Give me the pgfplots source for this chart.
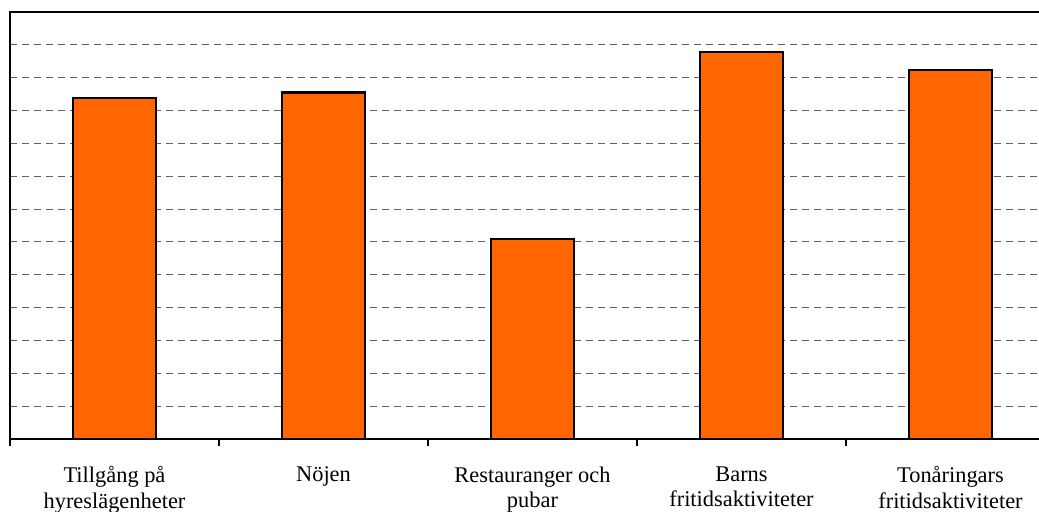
\documentclass[border=0pt]{standalone}
\usepackage{pgfplots}
\pgfplotsset{compat=1.18}
\usepackage{fontspec}
\setmainfont{Liberation Serif}
\usetikzlibrary{calc}
\definecolor{barorange}{HTML}{FF6600}
\definecolor{gridgray}{HTML}{606060}

\begin{document}
\begin{tikzpicture}
\begin{axis}[
    name=ax,
    at={(0,0)}, anchor=south west,
    scale only axis,
    width=783.75pt, height=320.25pt,
    xmin=-0.5, xmax=4.5,
    ymin=0, ymax=13,
    ytick={0,1,...,13},
    yticklabels={},
    ymajorgrids,
    major grid style={gridgray, line width=0.75pt, dash pattern=on 5.5pt off 3.5pt},
    y tick style={draw=none},
    xtick={0,1,2,3,4},
    xticklabels={Tillgång på\\hyreslägenheter, Nöjen, Restauranger och\\pubar, Barns\\fritidsaktiviteter, Tonåringars\\fritidsaktiviteter},
    xticklabel style={align=center, font=\fontsize{16.8}{19}\selectfont, yshift=-13pt},
    major x tick style={draw=none},
    minor xtick={-0.5,0.5,1.5,2.5,3.5},
    minor x tick style={black, line width=0.8pt},
    minor tick length=5pt,
    xtick pos=bottom,
    tick align=outside,
    axis line style={black, line width=0.8pt},
    ybar, bar width=0.4,
    bar shift=0pt,
]
\addplot[fill=barorange, draw=black, line width=1.6pt]
    coordinates {(0,10.37) (1,10.55) (2,6.10) (3,11.77) (4,11.23)};
\end{axis}
\pgfresetboundingbox
\path[use as bounding box] ($(ax.south west)+(-7.5pt,-54pt)$) rectangle ($(ax.south west)+(771.75pt,329.25pt)$);
\end{tikzpicture}
\end{document}
